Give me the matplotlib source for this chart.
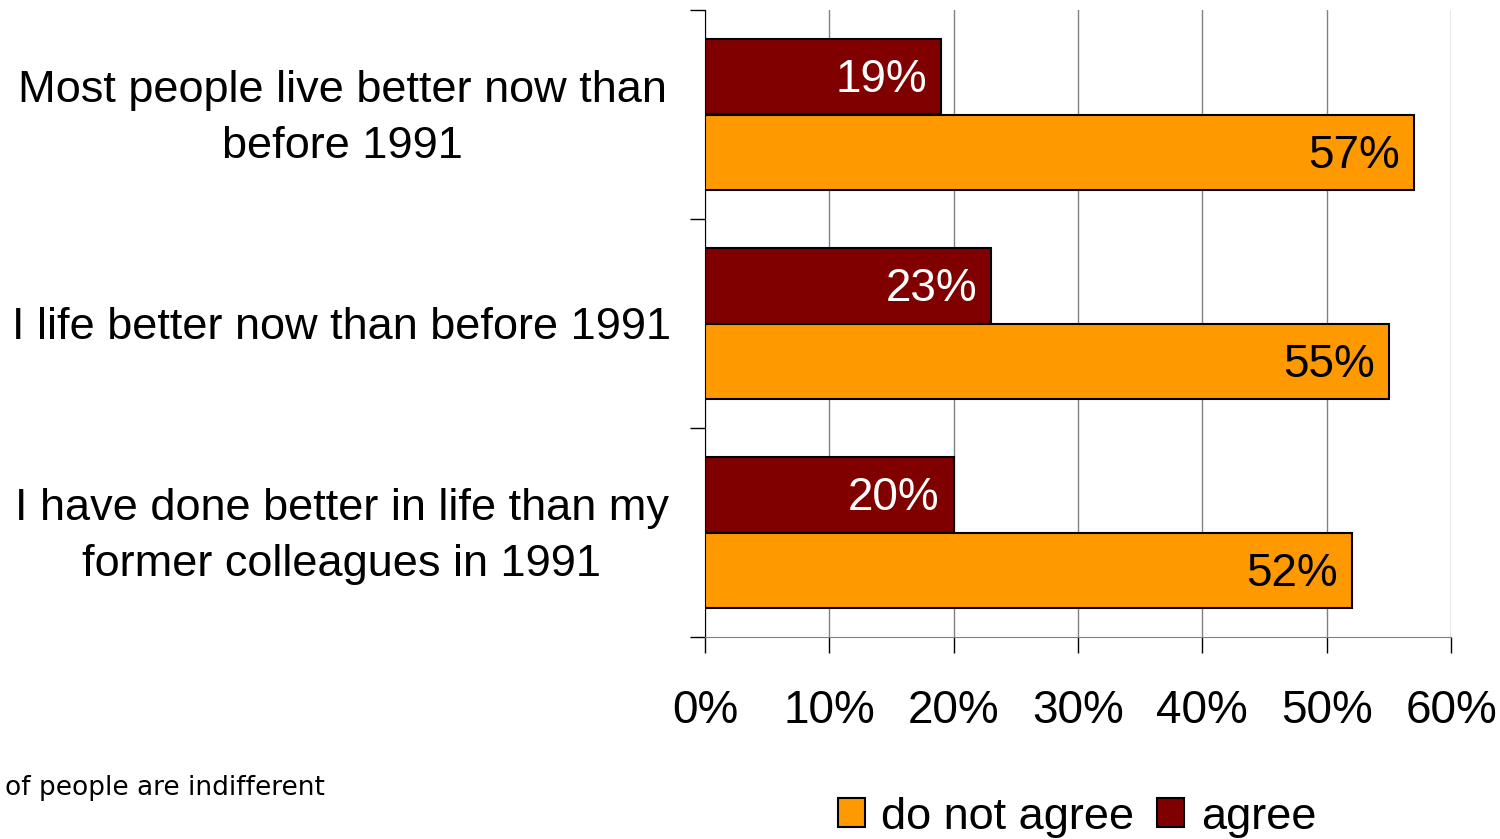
import matplotlib.pyplot as plt
from matplotlib.patches import Patch
import numpy as np

categories = [
    "Most people live better now than\nbefore 1991",
    "I life better now than before 1991",
    "I have done better in life than my\nformer colleagues in 1991",
]
agree = [19, 23, 20]
not_agree = [57, 55, 52]
x_ticks = [0, 10, 20, 30, 40, 50, 60]
note = "of people are indifferent"

col_agree = "#800000"
col_not = "#FF9900"

plt.rcParams["font.family"] = ["Liberation Sans", "DejaVu Sans"]

fig = plt.figure(figsize=(15, 8.39), dpi=100)
ax = fig.add_axes([705 / 1500, 1 - 637 / 839, 746 / 1500, 627 / 839])

y = np.arange(len(categories))
h = 0.36
b1 = ax.barh(y - h / 2, agree, height=h, color=col_agree, edgecolor="black", lw=1.5, zorder=3)
b2 = ax.barh(y + h / 2, not_agree, height=h, color=col_not, edgecolor="black", lw=1.5, zorder=3)

for bars, vals, c in [(b1, agree, "white"), (b2, not_agree, "black")]:
    for bar, v in zip(bars, vals):
        ax.annotate(f"{v}%", (bar.get_width(), bar.get_y() + bar.get_height() / 2),
                    xytext=(-10, -2.5), textcoords="offset points",
                    ha="right", va="center", color=c, fontsize=33, zorder=4)

ax.set_xlim(0, 60)
ax.set_ylim(2.5, -0.5)
ax.set_xticks(x_ticks)
ax.set_xticklabels([f"{t}%" for t in x_ticks], fontsize=33)
ax.tick_params(axis="x", length=11.5, width=1, pad=26, color="black")

# category labels, centred ~363 px left of the axis
ax.set_yticks(y)
ax.set_yticklabels([])
ax.tick_params(axis="y", which="major", length=0)
for yi, lab in zip(y, categories):
    ax.annotate(lab, (-363 / 746, yi), xycoords=("axes fraction", "data"),
                xytext=(0, -3), textcoords="offset points",
                ha="center", va="center", multialignment="center",
                fontsize=32.5, linespacing=1.45, annotation_clip=False)
ax.set_yticks([-0.5, 0.5, 1.5, 2.5], minor=True)
ax.tick_params(axis="y", which="minor", length=11, width=1, color="black")

ax.grid(axis="x", color="#808080", lw=1, zorder=0)
ax.spines["top"].set_visible(False)
ax.spines["right"].set_visible(False)
ax.spines["bottom"].set_color("#808080")
ax.spines["left"].set_color("black")

handles = [Patch(facecolor=col_not, edgecolor="black", lw=1.5, label="do not agree"),
           Patch(facecolor=col_agree, edgecolor="black", lw=1.5, label="agree")]
fig.legend(handles=handles, loc="center", bbox_to_anchor=(1077 / 1500, 1 - 817 / 839),
           ncol=2, frameon=False, fontsize=32.5, handlelength=0.6, handleheight=0.6,
           handletextpad=0.37, columnspacing=0.5, borderpad=0)

fig.text(5 / 1500, 1 - 788 / 839, note, ha="left", va="center", fontsize=19,
         family="DejaVu Sans")

fig.savefig("out.png", dpi=100)
